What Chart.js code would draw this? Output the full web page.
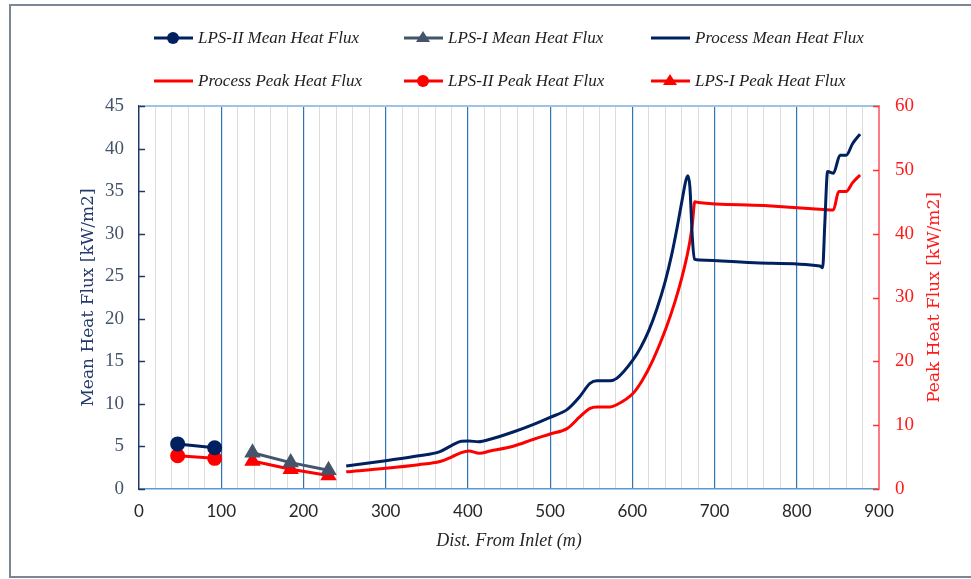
<!DOCTYPE html>
<html>
<head>
<meta charset="utf-8">
<script src="https://cdn.jsdelivr.net/npm/chart.js@4.4.1/dist/chart.umd.min.js"></script>
<style>
  html, body { margin: 0; padding: 0; background: #ffffff; }
  #wrap { position: relative; width: 971px; height: 579px; overflow: hidden; }
  #frame { position: absolute; left: 9px; top: 4px; width: 975px; height: 574px;
           border: 2px solid #7d8693; box-sizing: border-box; }
  #legend { position: absolute; left: 0; top: 0; width: 971px; height: 100px; }
  .item { position: absolute; display: flex; align-items: center; height: 20px;
          font-family: "Liberation Serif", serif; font-style: italic; font-size: 17px; color: #1e1e1e; white-space: nowrap; }
  .item svg { margin-right: 5px; }
</style>
</head>
<body>
<div id="wrap">
  <div id="frame"></div>
  <canvas id="c" width="971" height="579"></canvas>
  <div id="legend"></div>
</div>
<script>
// Distance from inlet (m) and heat flux (kW/m2) for each series
const lps2Dist = [47, 92];
const lps2Mean = [5.3, 4.85];
const lps2Peak = [5.2, 4.8];

const lps1Dist = [138, 184.5, 230.5];
const lps1Mean = [4.25, 3.1, 2.2];
const lps1Peak = [4.4, 3.1, 2.1];

const procMeanDist = [252, 300, 340, 366, 380, 392, 401, 413, 427, 455, 480, 500, 521, 536, 548.5, 557, 573, 581, 601, 610, 620, 630, 640, 648, 655, 661, 665, 667.5, 670, 673, 675.5, 682, 755, 828, 831.5, 834, 837.5, 844.5, 852.6, 860, 868, 877];
const procMeanVal  = [2.7, 3.33, 3.9, 4.4, 5.1, 5.6, 5.64, 5.55, 5.84, 6.7, 7.6, 8.42, 9.36, 10.85, 12.4, 12.72, 12.72, 13.0, 15.2, 16.6, 18.6, 21.2, 24.4, 27.6, 31.0, 34.2, 36.2, 36.8, 35.5, 29.5, 27.0, 26.9, 26.55, 26.2, 26.0, 31.0, 37.3, 37.1, 39.2, 39.2, 40.6, 41.7];

const procPeakDist = [252, 300, 340, 366, 380, 392, 401, 414, 427, 455, 480, 500, 521, 536, 548, 557, 573, 581, 601, 612, 625, 641.8, 652, 660, 666, 670, 673, 676, 680, 760, 832, 844.5, 851, 860, 868, 877];
const procPeakVal  = [2.7, 3.24, 3.8, 4.3, 5.0, 5.7, 5.95, 5.6, 5.95, 6.7, 7.8, 8.62, 9.5, 11.3, 12.6, 12.85, 12.85, 13.2, 15.0, 17.0, 20.2, 25.5, 29.4, 33.0, 36.2, 38.8, 41.5, 45.0, 44.9, 44.4, 43.8, 43.7, 46.6, 46.6, 48.0, 49.2];

const xTicks = [0, 100, 200, 300, 400, 500, 600, 700, 800, 900];
const meanTicks = [0, 5, 10, 15, 20, 25, 30, 35, 40, 45];
const peakTicks = [0, 10, 20, 30, 40, 50, 60];

const NAVY = '#002060';
const SLATE = '#44546a';
const RED = '#ff0000';

function pts(xs, ys) { return xs.map((x, i) => ({ x: x, y: ys[i] })); }

// Short tick marks drawn inward from the two value axes, plus the top edge of the plot
const frameMarks = {
  id: 'frameMarks',
  afterDatasetsDraw(chart) {
    const ctx = chart.ctx;
    const a = chart.chartArea;
    ctx.save();
    ctx.strokeStyle = '#9dc3e6';
    ctx.lineWidth = 2;
    ctx.beginPath(); ctx.moveTo(a.left, a.top); ctx.lineTo(a.right, a.top); ctx.stroke();
    const y = chart.scales.y, y2 = chart.scales.y2;
    ctx.lineWidth = 1.5;
    ctx.strokeStyle = '#203864';
    meanTicks.forEach(v => {
      const p = Math.round(y.getPixelForValue(v)) + 0.5;
      ctx.beginPath(); ctx.moveTo(a.left, p); ctx.lineTo(a.left + 6, p); ctx.stroke();
    });
    ctx.strokeStyle = '#ff3030';
    peakTicks.forEach(v => {
      const p = Math.round(y2.getPixelForValue(v)) + 0.5;
      ctx.beginPath(); ctx.moveTo(a.right - 6, p); ctx.lineTo(a.right, p); ctx.stroke();
    });
    // right-hand axis title, reading bottom to top
    ctx.fillStyle = '#ff1a1a';
    ctx.font = '17px "DejaVu Serif"';
    ctx.textAlign = 'center';
    ctx.textBaseline = 'middle';
    ctx.translate(935, (a.top + a.bottom) / 2);
    ctx.rotate(-Math.PI / 2);
    ctx.fillText('Peak Heat Flux [kW/m2]', 0, 0);
    ctx.restore();
  }
};

const chart = new Chart(document.getElementById('c'), {
  type: 'line',
  data: {
    datasets: [
      { label: 'LPS-II Mean Heat Flux', data: pts(lps2Dist, lps2Mean), yAxisID: 'y',
        borderColor: NAVY, backgroundColor: NAVY, borderWidth: 3, pointStyle: 'circle', pointRadius: 6, tension: 0 },
      { label: 'LPS-I Mean Heat Flux', data: pts(lps1Dist, lps1Mean), yAxisID: 'y',
        borderColor: SLATE, backgroundColor: SLATE, borderWidth: 3, pointStyle: 'triangle', pointRadius: 6.5, tension: 0 },
      { label: 'Process Mean Heat Flux', data: pts(procMeanDist, procMeanVal), yAxisID: 'y',
        borderColor: NAVY, backgroundColor: NAVY, borderWidth: 3, pointRadius: 0, cubicInterpolationMode: 'monotone' },
      { label: 'Process Peak Heat Flux', data: pts(procPeakDist, procPeakVal), yAxisID: 'y2',
        borderColor: RED, backgroundColor: RED, borderWidth: 3, pointRadius: 0, cubicInterpolationMode: 'monotone' },
      { label: 'LPS-II Peak Heat Flux', data: pts(lps2Dist, lps2Peak), yAxisID: 'y2',
        borderColor: RED, backgroundColor: RED, borderWidth: 3, pointStyle: 'circle', pointRadius: 6, tension: 0 },
      { label: 'LPS-I Peak Heat Flux', data: pts(lps1Dist, lps1Peak), yAxisID: 'y2',
        borderColor: RED, backgroundColor: RED, borderWidth: 3, pointStyle: 'triangle', pointRadius: 6.5, tension: 0 }
    ]
  },
  options: {
    responsive: false,
    animation: false,
    layout: { padding: { top: 106, left: 0, right: 0, bottom: 0 } },
    plugins: { legend: { display: false }, tooltip: { enabled: false } },
    scales: {
      x: {
        type: 'linear', min: 0, max: 900,
        afterFit(s) { s.height = 90; },
        afterBuildTicks(s) {
          const t = [];
          for (let v = 0; v <= 900; v += 20) t.push({ value: v });
          s.ticks = t;
        },
        ticks: {
          autoSkip: false, maxRotation: 0, padding: 12,
          color: '#262626', font: { family: 'Lato', size: 17 },
          callback: v => xTicks.includes(v) ? String(v) : ''
        },
        grid: {
          drawTicks: false,
          color: c => (c.tick.value === 0 || c.tick.value === 900) ? 'rgba(0,0,0,0)'
                    : (c.tick.value % 100 === 0 ? '#2e75b6' : '#dcdcdc'),
          lineWidth: c => c.tick.value % 100 === 0 ? 1.2 : 1
        },
        border: { color: '#5b9bd5', width: 1.5 },
        title: {
          display: true, text: 'Dist. From Inlet (m)', color: '#262626',
          font: { family: 'Liberation Serif', size: 18, style: 'italic' },
          padding: { top: 0, bottom: 27 }
        }
      },
      y: {
        position: 'left', min: 0, max: 45,
        afterFit(s) { s.width = 139; },
        afterBuildTicks(s) { s.ticks = meanTicks.map(v => ({ value: v })); },
        ticks: { padding: 15, color: '#44546a', font: { family: 'Liberation Serif', size: 19 } },
        grid: { display: false, drawTicks: false },
        border: { color: '#203864', width: 1.5 },
        title: {
          display: true, text: 'Mean Heat Flux [kW/m2]', color: '#243a6c',
          font: { family: 'DejaVu Serif', size: 17 },
          padding: { top: 78, bottom: 0 }
        }
      },
      y2: {
        position: 'right', min: 0, max: 60,
        afterFit(s) { s.width = 92; },
        afterBuildTicks(s) { s.ticks = peakTicks.map(v => ({ value: v })); },
        ticks: { padding: 16, color: '#ff1a1a', font: { family: 'Liberation Serif', size: 19 } },
        grid: { display: false, drawTicks: false },
        border: { color: '#ff7c80', width: 2 }
      }
    }
  },
  plugins: [frameMarks]
});

// Two-row legend laid out in three fixed columns
(function buildLegend() {
  const box = document.getElementById('legend');
  const cols = [154, 404, 651];
  const rows = [38, 81];
  chart.data.datasets.forEach((ds, i) => {
    const col = cols[i % 3], row = rows[Math.floor(i / 3)];
    const el = document.createElement('div');
    el.className = 'item';
    el.style.left = col + 'px';
    el.style.top = (row - 10) + 'px';
    let marker = '';
    if (ds.pointRadius > 0 && ds.pointStyle === 'circle') {
      marker = `<circle cx="19" cy="10" r="6" fill="${ds.borderColor}"/>`;
    } else if (ds.pointRadius > 0 && ds.pointStyle === 'triangle') {
      marker = `<polygon points="19,3 26,14 12,14" fill="${ds.borderColor}"/>`;
    }
    el.innerHTML = `<svg width="39" height="20"><line x1="0" y1="10" x2="39" y2="10" stroke="${ds.borderColor}" stroke-width="3"/>${marker}</svg><span>${ds.label}</span>`;
    box.appendChild(el);
  });
})();
</script>
</body>
</html>
